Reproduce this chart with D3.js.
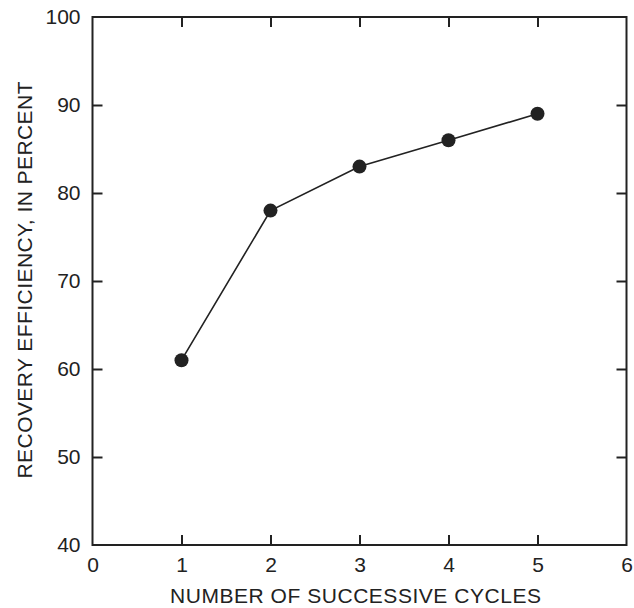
<!DOCTYPE html>
<html>
<head>
<meta charset="utf-8">
<script src="https://cdn.jsdelivr.net/npm/d3@7"></script>
<style>
    body { margin: 0; background: #fff; }
    svg text { font-family: "Liberation Sans", Arial, sans-serif; fill: #222; }
</style>
</head>
<body>
<svg width="634" height="608"></svg>
<script>
var cycles = [1, 2, 3, 4, 5];
var efficiency = [61, 78, 83, 86, 89];
var xTicks = [0, 1, 2, 3, 4, 5, 6];
var yTicks = [40, 50, 60, 70, 80, 90, 100];

var svg = d3.select("svg");

// plot box (note: "top" is taken by window.top, so use other names)
var plotLeft = 92.5, plotRight = 626.5, plotTop = 17, plotBottom = 545;
var ink = "#222";

var x = d3.scaleLinear().domain([0, 6]).range([plotLeft, plotRight]);
var y = d3.scaleLinear().domain([40, 100]).range([plotBottom, plotTop]);

// FRAME
svg.append("rect")
    .attr("x", plotLeft)
    .attr("y", plotTop)
    .attr("width", plotRight - plotLeft)
    .attr("height", plotBottom - plotTop)
    .attr("fill", "none")
    .attr("stroke", ink)
    .attr("stroke-width", 2);

// AXES (ticks inward on all four sides)
function styleAxis(g) {
    g.select(".domain").remove();
    g.selectAll(".tick line").attr("stroke", ink).attr("stroke-width", 2);
    g.selectAll(".tick text")
        .attr("font-size", 21)
        .attr("font-family", "Liberation Sans, Arial, sans-serif")
        .style("fill", ink);
}

svg.append("g")
    .attr("transform", "translate(0," + plotBottom + ")")
    .call(d3.axisBottom(x).tickValues(xTicks).tickFormat(d3.format("d")).tickSizeInner(-10).tickPadding(12))
    .call(styleAxis)
    .call(function(g) { g.selectAll(".tick").filter(function(d) { return d == 0 || d == 6; }).select("line").remove(); });

svg.append("g")
    .attr("transform", "translate(0," + plotTop + ")")
    .call(d3.axisTop(x).tickValues(cycles).tickFormat("").tickSizeInner(-10))
    .call(styleAxis);

svg.append("g")
    .attr("transform", "translate(" + plotLeft + ",0)")
    .call(d3.axisLeft(y).tickValues(yTicks).tickFormat(d3.format("d")).tickSizeInner(-10).tickPadding(12))
    .call(styleAxis)
    .call(function(g) { g.selectAll(".tick").filter(function(d) { return d == 40 || d == 100; }).select("line").remove(); });

svg.append("g")
    .attr("transform", "translate(" + plotRight + ",0)")
    .call(d3.axisRight(y).tickValues(yTicks.slice(1, -1)).tickFormat("").tickSizeInner(-10))
    .call(styleAxis);

// AXIS TITLES
svg.append("text")
    .attr("x", (plotLeft + plotRight) / 2 - 4)
    .attr("y", 603)
    .attr("text-anchor", "middle")
    .attr("font-size", 21)
    .attr("textLength", 371)
    .attr("lengthAdjust", "spacing")
    .text("NUMBER OF SUCCESSIVE CYCLES");

svg.append("text")
    .attr("transform", "translate(32," + ((plotTop + plotBottom) / 2 - 1) + ") rotate(-90)")
    .attr("text-anchor", "middle")
    .attr("font-size", 21)
    .attr("textLength", 397)
    .attr("lengthAdjust", "spacing")
    .text("RECOVERY EFFICIENCY, IN PERCENT");

// LINE + MARKERS
var points = cycles.map(function(c, i) { return [c, efficiency[i]]; });

var line = d3.line()
    .x(function(d) { return x(d[0]); })
    .y(function(d) { return y(d[1]); });

svg.append("path")
    .attr("d", line(points))
    .attr("fill", "none")
    .attr("stroke", ink)
    .attr("stroke-width", 1.6);

svg.selectAll(".pt")
    .data(points)
    .enter()
    .append("circle")
    .attr("class", "pt")
    .attr("cx", function(d) { return x(d[0]); })
    .attr("cy", function(d) { return y(d[1]); })
    .attr("r", 7)
    .attr("fill", ink);
</script>
</body>
</html>
